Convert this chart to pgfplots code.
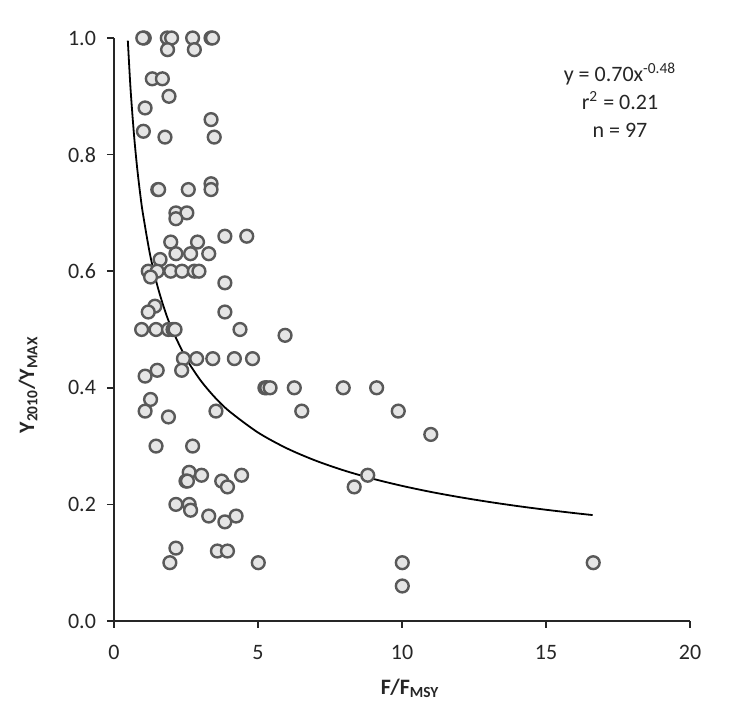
\documentclass[border=0pt]{standalone}
\usepackage{fontspec}
\setmainfont{Carlito}
\usepackage{pgfplots}
\pgfplotsset{compat=1.18}
\begin{document}
\begin{tikzpicture}
\begin{axis}[name=ax, scale only axis, width=288pt, height=291.5pt,
  xmin=0, xmax=20, ymin=0, ymax=1,
  axis lines=left, axis line style={line width=0.8pt, black!85, -},
  xtick={0,5,10,15,20}, ytick={0,0.2,0.4,0.6,0.8,1.0},
  tick align=outside, major tick length=3.5pt,
  tick style={line width=0.8pt, black!85},
  yticklabel style={/pgf/number format/fixed, /pgf/number format/precision=1, /pgf/number format/fixed zerofill, xshift=-2pt},
  xticklabel style={yshift=-5pt},
  /pgf/number format/assume math mode=true,
  ticklabel style={font=\fontsize{11}{13}\selectfont, text=black!85},
  clip=false,
  xlabel={\textbf{F/F\textsubscript{MSY}}},
  ylabel={\textbf{Y\textsubscript{2010}/Y\textsubscript{MAX}}},
  xlabel style={at={(axis description cs:0.514,-0.115)}, anchor=center, font=\fontsize{11}{13}\selectfont, text=black!85},
  ylabel style={at={(axis description cs:-0.149,0.405)}, anchor=center, rotate=0, font=\fontsize{11}{13}\selectfont, text=black!85},
]
\addplot[only marks, mark=*, mark size=3.2pt, mark options={draw=black!65, fill=black!10, line width=1.2pt}] table {
x y
1.05 1.0
1.0 1.0
1.85 1.0
2.0 1.0
2.73 1.0
3.37 1.0
3.42 1.0
1.86 0.98
2.79 0.98
1.33 0.93
1.68 0.93
1.91 0.90
1.08 0.88
3.37 0.86
1.02 0.84
1.77 0.83
3.48 0.83
1.52 0.74
1.55 0.74
2.58 0.74
3.37 0.75
3.37 0.74
2.15 0.70
2.53 0.70
2.15 0.69
1.97 0.65
2.9 0.65
3.85 0.66
4.61 0.66
2.15 0.63
2.66 0.63
3.29 0.63
1.6 0.62
1.19 0.60
1.5 0.60
1.97 0.60
2.36 0.60
2.79 0.60
2.95 0.60
1.27 0.59
3.85 0.58
1.42 0.54
1.19 0.53
3.85 0.53
0.96 0.50
1.46 0.50
1.89 0.50
2.05 0.50
2.12 0.50
4.375 0.50
5.94 0.49
2.41 0.45
2.87 0.45
3.43 0.45
4.18 0.45
4.81 0.45
1.5 0.43
2.35 0.43
1.08 0.42
5.24 0.40
5.3 0.40
5.42 0.40
6.26 0.40
7.96 0.40
9.12 0.40
1.27 0.38
1.08 0.36
1.89 0.35
3.54 0.36
6.52 0.36
9.87 0.36
11.0 0.32
1.46 0.30
2.73 0.30
2.61 0.255
2.5 0.24
2.55 0.24
3.04 0.25
3.74 0.24
3.94 0.23
4.43 0.25
8.81 0.25
8.34 0.23
2.15 0.20
2.61 0.20
2.66 0.19
3.29 0.18
3.85 0.17
4.24 0.18
2.15 0.125
1.94 0.10
3.59 0.12
3.94 0.12
5.01 0.10
16.64 0.10
10.01 0.10
10.01 0.06
};
\addplot[black, line width=0.9pt, smooth, no marks] coordinates {
(0.48,0.9956) (0.55,0.9327) (0.6,0.8945) (0.7,0.8307) (0.8,0.7791) (0.9,0.7363)
(1.0,0.70) (1.25,0.6289) (1.5,0.5762) (1.75,0.5351) (2,0.5019) (2.5,0.4509)
(3,0.4131) (3.5,0.3837) (4,0.3599) (5,0.3233) (6,0.2962) (7,0.2751) (8,0.2580)
(9,0.2438) (10,0.2318) (11,0.2214) (12,0.2124) (13,0.2044) (14,0.1972)
(15,0.1908) (16,0.1850) (16.62,0.1817)
};
\node[align=center, font=\fontsize{11}{14}\selectfont, text=black!85] at (axis cs:17.57,0.894) {y = 0.70x\textsuperscript{-0.48}\\ r\textsuperscript{2} = 0.21\\ n = 97};
\end{axis}
\path ([shift={(-57pt,-52.5pt)}]ax.south west) rectangle ([shift={(312.5pt,310.5pt)}]ax.south west);
\end{tikzpicture}
\end{document}
